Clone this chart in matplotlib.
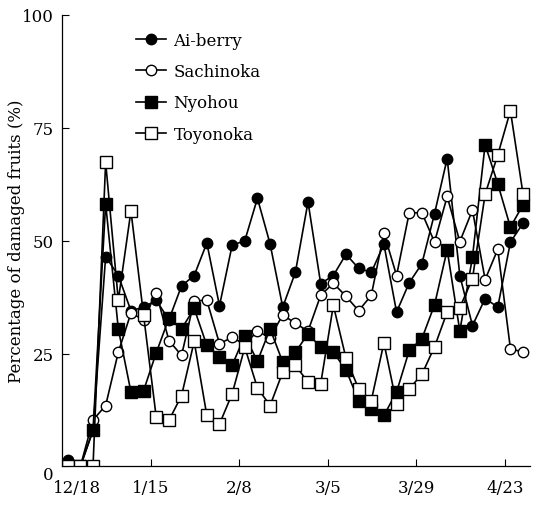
import numpy as np
import matplotlib
matplotlib.use("Agg")
import matplotlib.pyplot as plt
from matplotlib.transforms import ScaledTranslation

plt.rcParams['font.family'] = ['DejaVu Serif']

# sampling dates are twice a week; x is the sample number
date_labels = ['12/18', '1/15', '2/8', '3/5', '3/29', '4/23']

ai_berry = [1.5, 0, 8, 46.5, 42.3, 34.5, 35.3, 36.8, 32.5, 40, 42.3, 49.5, 35.6,
            49, 50, 59.4, 49.3, 35.3, 43, 58.6, 40.5, 42.3, 47, 43.9, 43, 49.2,
            34.2, 40.7, 44.9, 56, 68.2, 42.3, 31.2, 37.2, 35.3, 49.7, 53.9]
sachinoka = [0, 0, 10.3, 13.5, 25.3, 34, 32.5, 38.5, 27.9, 24.6, 36.7, 36.8, 27.2,
             28.6, 27, 30, 28.5, 33.6, 31.7, 30, 37.9, 40.6, 37.7, 34.5, 37.9, 51.7,
             42.3, 56.2, 56.2, 49.7, 59.8, 49.8, 56.8, 41.4, 48.1, 26.1, 25.3]
nyohou = [0, 0, 8, 58.2, 30.5, 16.5, 16.8, 25.2, 32.8, 30.5, 35, 26.8, 24.2,
          22.4, 29, 23.3, 30.5, 23.1, 25.3, 29.4, 26.4, 25.3, 21.4, 14.6, 12.7, 11.3,
          16.5, 25.7, 28.3, 35.8, 48, 30, 46.4, 71.3, 62.6, 53, 58]
toyonoka = [0, 0, 0, 67.4, 36.8, 56.6, 33.5, 10.9, 10.2, 15.7, 27.7, 11.3, 9.4,
            16.1, 26.4, 17.4, 13.5, 20.9, 22.4, 18.7, 18.3, 35.7, 24, 17.2, 14.6, 27.4,
            13.9, 17.2, 20.4, 26.5, 34.2, 35.2, 41.6, 60.3, 69, 78.8, 60.3]

x = np.arange(len(ai_berry))

fig = plt.figure(figsize=(5.35, 5.06), dpi=100)
ax = fig.add_axes([0.1159, 0.0761, 0.8748, 0.8923])

lw = 1.2
ax.plot(x, ai_berry, '-o', color='black', lw=lw, ms=7.5, mfc='black', mec='black', label='Ai-berry')
ax.plot(x, sachinoka, '-o', color='black', lw=lw, ms=7.5, mfc='white', mec='black', mew=1.0, label='Sachinoka')
ax.plot(x, nyohou, '-s', color='black', lw=lw, ms=8.5, mfc='black', mec='black', label='Nyohou')
ax.plot(x, toyonoka, '-s', color='black', lw=lw, ms=8.5, mfc='white', mec='black', mew=1.0, label='Toyonoka')

ax.set_xlim(-0.45, 36.55)
ax.set_ylim(0, 100)
ax.set_xticks(np.arange(len(date_labels)) * 7 - 0.45)
ax.set_xticklabels(date_labels)
ax.set_yticks([0, 25, 50, 75, 100])
ax.tick_params(axis='x', direction='in', length=5, width=0.8, labelsize=12, pad=9)
ax.tick_params(axis='y', direction='in', length=5, width=0.8, labelsize=12, pad=6)
ax.spines['top'].set_visible(False)
ax.spines['right'].set_visible(False)
for s in ['left', 'bottom']:
    ax.spines[s].set_linewidth(0.9)

# first date label sits a bit right of the corner, the 0 a bit lower
xl = ax.get_xticklabels()[0]
xl.set_transform(xl.get_transform() + ScaledTranslation(15 / 100, 0, fig.dpi_scale_trans))
yl = ax.get_yticklabels()[0]
yl.set_transform(yl.get_transform() + ScaledTranslation(0, -6 / 100, fig.dpi_scale_trans))

ax.set_ylabel('Percentage of damaged fruits (%)', fontsize=12)
ax.yaxis.set_label_coords(-0.079, 0.5)

ax.legend(loc='upper left', bbox_to_anchor=(0.158, 0.962), frameon=False, fontsize=12,
          handlelength=1.8, handletextpad=0.45, labelspacing=0.85, borderpad=0, borderaxespad=0)

fig.savefig('out.png', dpi=100)
